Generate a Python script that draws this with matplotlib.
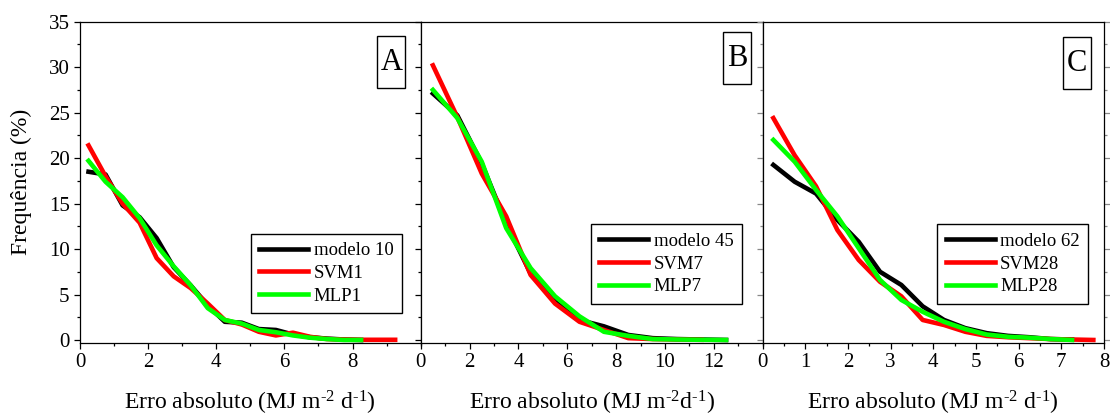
import numpy as np
import matplotlib
matplotlib.use('Agg')
import matplotlib.pyplot as plt
from matplotlib.ticker import MultipleLocator, FixedLocator
from matplotlib.patches import Rectangle

plt.rcParams['font.family'] = ['Liberation Serif', 'DejaVu Serif']
plt.rcParams['mathtext.fontset'] = 'custom'
plt.rcParams['mathtext.rm'] = 'Liberation Serif'
plt.rcParams['mathtext.it'] = 'Liberation Serif:italic'

# painel A
A_x = [0.25, 0.75, 1.25, 1.75, 2.25, 2.75, 3.25, 3.75, 4.25, 4.75,
       5.25, 5.75, 6.25, 6.75, 7.25, 7.75, 8.25, 8.75, 9.25]
A_modelo = [18.5, 18.2, 14.8, 13.5, 11.2, 8.0, 6.0, 3.8, 2.0, 1.9,
            1.2, 1.1, 0.6, 0.3, 0.15, 0.05, 0.0]
A_svm = [21.4, 18.0, 15.0, 12.9, 9.0, 7.0, 5.7, 4.0, 2.2, 1.7,
         0.9, 0.5, 0.8, 0.35, 0.1, 0.05, 0.02, 0.02, 0.02]
A_mlp = [19.7, 17.4, 15.7, 13.4, 10.4, 8.1, 6.0, 3.5, 2.2, 1.8,
         1.1, 0.85, 0.5, 0.25, 0.1, 0.0, 0.0]

# painel B
B_x = [0.5, 1.5, 2.5, 3.5, 4.5, 5.5, 6.5, 7.5, 8.5, 9.5, 10.5, 11.5, 12.5]
B_modelo = [27.1, 24.7, 19.4, 12.8, 7.3, 4.2, 2.2, 1.5, 0.55, 0.2, 0.1, 0.05, 0.0]
B_svm = [30.2, 24.5, 18.3, 13.6, 7.15, 4.0, 2.0, 1.1, 0.2, 0.1, 0.05, 0.02]
B_mlp = [27.5, 24.4, 19.6, 12.3, 7.9, 4.8, 2.6, 0.9, 0.45, 0.1, 0.05, 0.02, 0.0]

# painel C
C_x = [0.25, 0.75, 1.25, 1.75, 2.25, 2.75, 3.25, 3.75, 4.25, 4.75,
       5.25, 5.75, 6.25, 6.75, 7.25, 7.75]
C_modelo = [19.25, 17.4, 16.1, 13.2, 10.8, 7.5, 6.05, 3.7, 2.2, 1.3,
            0.75, 0.45, 0.3, 0.1, 0.05]
C_svm = [24.4, 20.3, 16.9, 12.1, 8.8, 6.4, 4.8, 2.2, 1.65, 0.9,
         0.45, 0.3, 0.2, 0.1, 0.05, 0.0]
C_mlp = [22.0, 19.6, 16.5, 13.6, 10.1, 6.6, 4.4, 3.1, 2.0, 1.2,
         0.6, 0.35, 0.25, 0.1, 0.0]

labels = [['modelo 10', 'SVM1', 'MLP1'],
          ['modelo 45', 'SVM7', 'MLP7'],
          ['modelo 62', 'SVM28', 'MLP28']]
letras = ['A', 'B', 'C']
xlabels = [r'Erro absoluto (MJ m$^{\text{-2}}$ d$^{\text{-1}}$)',
           r'Erro absoluto (MJ m$^{\text{-2}}$d$^{\text{-1}}$)',
           r'Erro absoluto (MJ m$^{\text{-2}}$ d$^{\text{-1}}$)']

W, H = 1110, 416
fig = plt.figure(figsize=(W / 100, H / 100), dpi=100)

edges = [80, 420.7, 762.7, 1104]
bot, top = 342.7, 21.7
xlims = [10, 14, 8]
xmaj = [[0, 2, 4, 6, 8], [0, 2, 4, 6, 8, 10, 12], [0, 1, 2, 3, 4, 5, 6, 7, 8]]
xmin = [1, 1, 0.5]
leg_anchor = [(0.945, 0.092), (0.939, 0.121), (0.954, 0.121)]
box_c = [(0.914, 0.873), (0.926, 0.886), (0.921, 0.870)]

dados = [(A_x, A_modelo, A_svm, A_mlp),
         (B_x, B_modelo, B_svm, B_mlp),
         (C_x, C_modelo, C_svm, C_mlp)]

for i in range(3):
    ax = fig.add_axes([edges[i] / W, (H - bot) / H,
                       (edges[i + 1] - edges[i]) / W, (bot - top) / H])
    x, m, s, p = dados[i]
    ax.plot(x[:len(m)], m, color='black', lw=3.3, label=labels[i][0])
    ax.plot(x[:len(s)], s, color='#ff0000', lw=3.3, label=labels[i][1])
    ax.plot(x[:len(p)], p, color='#00ff00', lw=3.3, label=labels[i][2])

    ax.set_xlim(0, xlims[i])
    ax.set_ylim(-0.3, 35)
    ax.xaxis.set_major_locator(FixedLocator(xmaj[i]))
    ax.xaxis.set_minor_locator(MultipleLocator(xmin[i]))
    ax.yaxis.set_major_locator(MultipleLocator(5))
    ax.yaxis.set_minor_locator(MultipleLocator(2.5))
    ax.tick_params(which='both', direction='out', width=0.9, labelsize=15, pad=3)
    ax.tick_params(which='major', length=4.5)
    ax.tick_params(which='minor', length=2.5)
    if i == 2:
        ax.tick_params(axis='y', which='both', right=True, colors='#888888',
                       labelcolor='black')
    if i > 0:
        ax.tick_params(axis='y', labelleft=False)
    for sp in ax.spines.values():
        sp.set_linewidth(0.9)

    ax.set_xlabel(xlabels[i], fontsize=17, labelpad=12)
    if i == 0:
        ax.set_ylabel('Frequência (%)', fontsize=17, labelpad=12)

    leg = ax.legend(loc='lower right', bbox_to_anchor=leg_anchor[i],
                    borderaxespad=0, fontsize=13.5, frameon=True, fancybox=False,
                    edgecolor='black', framealpha=1, handlelength=2.6,
                    handletextpad=0.3, labelspacing=0.3, borderpad=0.45)
    leg.get_frame().set_linewidth(1.0)

    cx, cy = box_c[i]
    bw = 28 / (edges[i + 1] - edges[i])
    bh = 52 / (bot - top)
    ax.add_patch(Rectangle((cx - bw / 2, cy - bh / 2), bw, bh, transform=ax.transAxes,
                           fill=False, edgecolor='black', lw=1.0))
    ax.text(cx, cy, letras[i], transform=ax.transAxes, ha='center', va='center',
            fontsize=22)

fig.savefig('out.png', dpi=100)
